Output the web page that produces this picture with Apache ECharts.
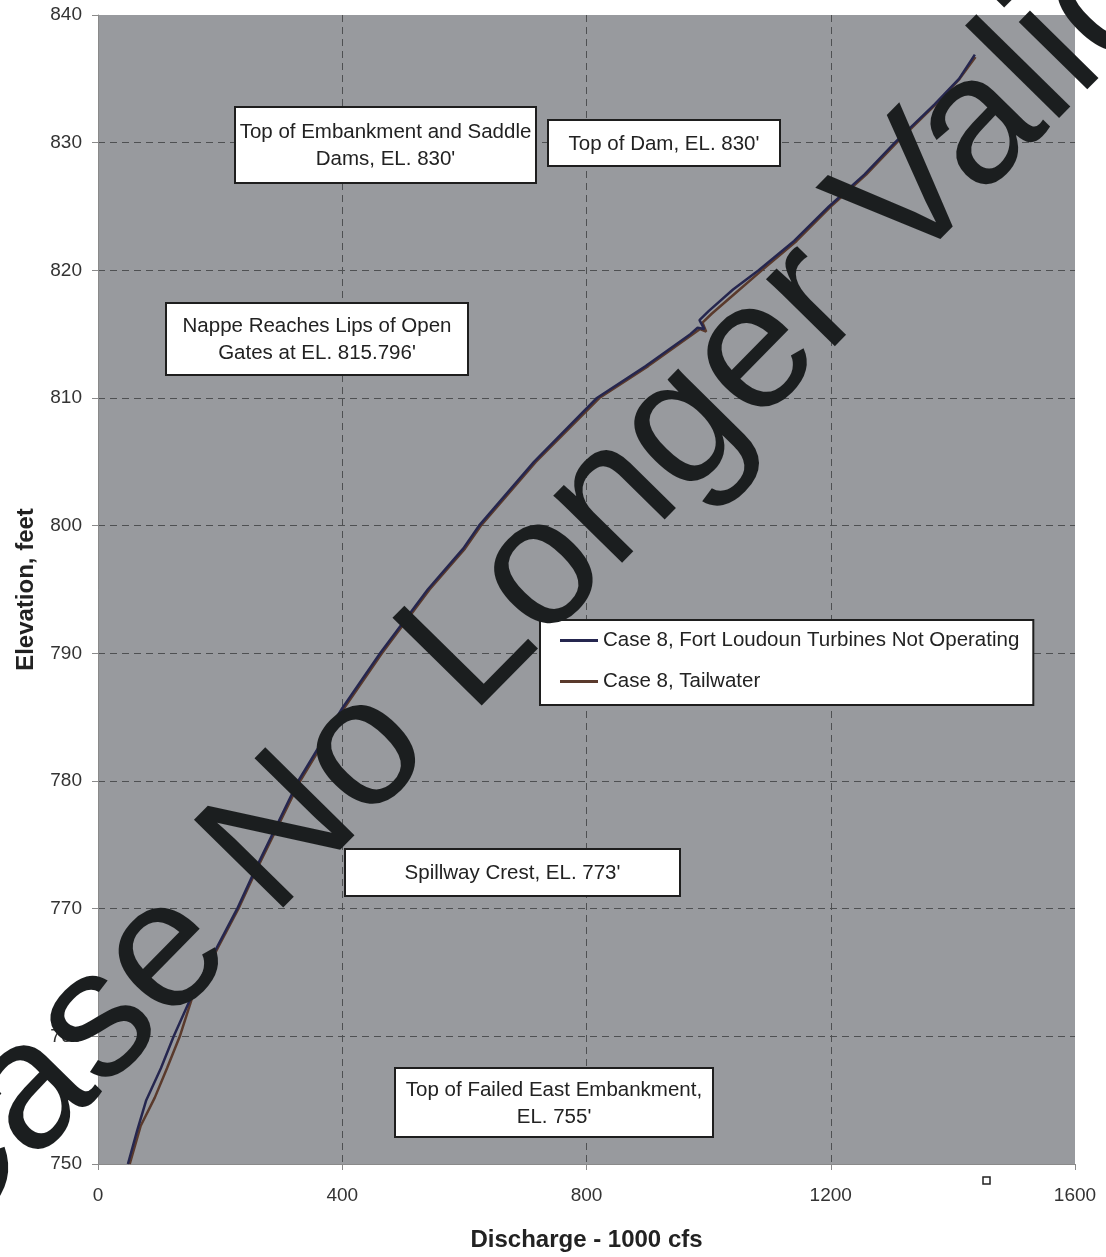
<!DOCTYPE html>
<html>
<head>
<meta charset="utf-8">
<script src="https://cdn.jsdelivr.net/npm/echarts@6/dist/echarts.min.js"></script>
<style>
  html, body { margin: 0; padding: 0; background: #ffffff; }
  #chart { width: 1106px; height: 1257px; }
</style>
</head>
<body>
<div id="chart"></div>
<script>
// Discharge (1000 cfs) vs. reservoir elevation (ft)
const notOperatingDischarge = [49, 64, 79, 103, 124, 152, 195, 228, 257, 328, 400, 462, 540, 598, 624, 714, 817, 897, 970, 982, 993, 985, 1000, 1040, 1082, 1140, 1197, 1255, 1305, 1370, 1410, 1436];
const notOperatingElevation = [750, 752.6, 755, 757.5, 760, 763, 767, 770, 773, 780, 785.7, 790, 795, 798.2, 800, 805, 810, 812.5, 815, 815.5, 815.4, 816.1, 816.8, 818.5, 820, 822.3, 825, 827.5, 830, 833, 835, 836.9];

const tailwaterDischarge = [52, 70, 93, 113, 134, 154, 197, 230, 259, 331, 403, 465, 543, 601, 627, 717, 821, 901, 974, 986, 996, 990, 1005, 1046, 1087, 1144, 1200, 1258, 1308, 1372, 1411, 1437];
const tailwaterElevation = [750, 753, 755.2, 757.5, 760, 763, 767, 770, 773, 780, 785.7, 790, 795, 798.2, 800, 805, 810, 812.5, 815, 815.4, 815.2, 815.9, 816.6, 818.3, 820, 822.3, 825, 827.5, 830, 833, 835, 836.7];

const seriesNames = ['Case 8, Fort Loudoun Turbines Not Operating', 'Case 8, Tailwater'];

const xTicks = [0, 400, 800, 1200, 1600];
const yTicks = [750, 760, 770, 780, 790, 800, 810, 820, 830, 840];

const notes = [
  ['Top of Embankment and Saddle', "Dams, EL. 830'"],
  ["Top of Dam, EL. 830'"],
  ['Nappe Reaches Lips of Open', "Gates at EL. 815.796'"],
  ["Spillway Crest, EL. 773'"],
  ['Top of Failed East Embankment,', "EL. 755'"]
];
const stampText = 'Case No Longer Valid';

function pairs(xs, ys) { return xs.map((x, i) => [x, ys[i]]); }

const FONT = '"Liberation Sans", Arial, sans-serif';

// annotation boxes: left, top, width, height (px)
const boxLayout = [
  [235, 107, 301, 76],
  [548, 120, 232, 46],
  [166, 303, 302, 72],
  [345, 849, 335, 47],
  [395, 1068, 318, 69]
];

function noteBox(lines, lay) {
  const [x, y, w, h] = lay;
  return {
    type: 'group', x: x, y: y, z: 50,
    children: [
      { type: 'rect', z: 50, shape: { x: 0, y: 0, width: w, height: h },
        style: { fill: '#ffffff', stroke: '#1e1e1e', lineWidth: 2 } },
      { type: 'text', z: 51, x: w / 2, y: h / 2 + 1,
        style: { text: lines.join('\n'), font: '20.5px ' + FONT, fill: '#222222',
                 textAlign: 'center', textVerticalAlign: 'middle', lineHeight: 27 } }
    ]
  };
}

const chart = echarts.init(document.getElementById('chart'), null, { renderer: 'canvas' });

const option = {
  animation: false,
  backgroundColor: '#ffffff',
  grid: {
    left: 98, top: 15, right: 31, bottom: 91,
    show: true, backgroundColor: '#989a9e', borderWidth: 0
  },
  xAxis: {
    type: 'value', min: xTicks[0], max: xTicks[xTicks.length - 1], interval: 400,
    name: 'Discharge - 1000 cfs', nameLocation: 'middle', nameGap: 64,
    nameTextStyle: { fontFamily: FONT, fontSize: 24, fontWeight: 'bold', color: '#222' },
    axisLine: { show: true, lineStyle: { color: '#8a8a8a', width: 1 } },
    axisTick: { show: true, length: 6, lineStyle: { color: '#8a8a8a' } },
    axisLabel: { fontFamily: FONT, fontSize: 19, color: '#333', margin: 22,
                 formatter: v => String(v) },
    splitLine: { show: true, showMinLine: false, showMaxLine: false,
                 lineStyle: { color: '#4e5052', type: [7, 5], width: 1 } }
  },
  yAxis: {
    type: 'value', min: yTicks[0], max: yTicks[yTicks.length - 1], interval: 10,
    name: 'Elevation, feet', nameLocation: 'middle', nameGap: 60,
    nameTextStyle: { fontFamily: FONT, fontSize: 24, fontWeight: 'bold', color: '#222' },
    axisLine: { show: true, lineStyle: { color: '#8a8a8a', width: 1 } },
    axisTick: { show: true, length: 6, lineStyle: { color: '#8a8a8a' } },
    axisLabel: { fontFamily: FONT, fontSize: 19, color: '#333', margin: 16,
                 formatter: v => String(v) },
    splitLine: { show: true, showMinLine: false, showMaxLine: false,
                 lineStyle: { color: '#4e5052', type: [7, 5], width: 1 } }
  },
  legend: {
    orient: 'vertical', left: 540, top: 620,
    padding: [10, 14, 13, 20], itemGap: 20,
    backgroundColor: '#ffffff', borderColor: '#1e1e1e', borderWidth: 2,
    icon: 'rect', itemWidth: 38, itemHeight: 3,
    textStyle: { fontFamily: FONT, fontSize: 20.5, color: '#222' },
    data: seriesNames
  },
  series: [
    {
      name: seriesNames[0], type: 'line', showSymbol: false, symbol: 'none',
      data: pairs(notOperatingDischarge, notOperatingElevation),
      lineStyle: { color: '#25264f', width: 2.5 }, itemStyle: { color: '#25264f' }, z: 3
    },
    {
      name: seriesNames[1], type: 'line', showSymbol: false, symbol: 'none',
      data: pairs(tailwaterDischarge, tailwaterElevation),
      lineStyle: { color: '#5a3a2c', width: 2.5 }, itemStyle: { color: '#5a3a2c' }, z: 2
    }
  ],
  graphic: [
    ...notes.map((n, i) => noteBox(n, boxLayout[i])),
    { type: 'rect', x: 983, y: 1177, z: 50,
      shape: { x: 0, y: 0, width: 7, height: 7 },
      style: { fill: '#ffffff', stroke: '#222', lineWidth: 1.5 } },
    { type: 'text', x: 523, y: 592, rotation: 45.5 * Math.PI / 180, z: 100,
      style: { text: stampText, font: '182px ' + FONT, fill: '#1b1e1f',
               textAlign: 'center', textVerticalAlign: 'middle' } }
  ]
};

chart.setOption(option);
</script>
</body>
</html>
